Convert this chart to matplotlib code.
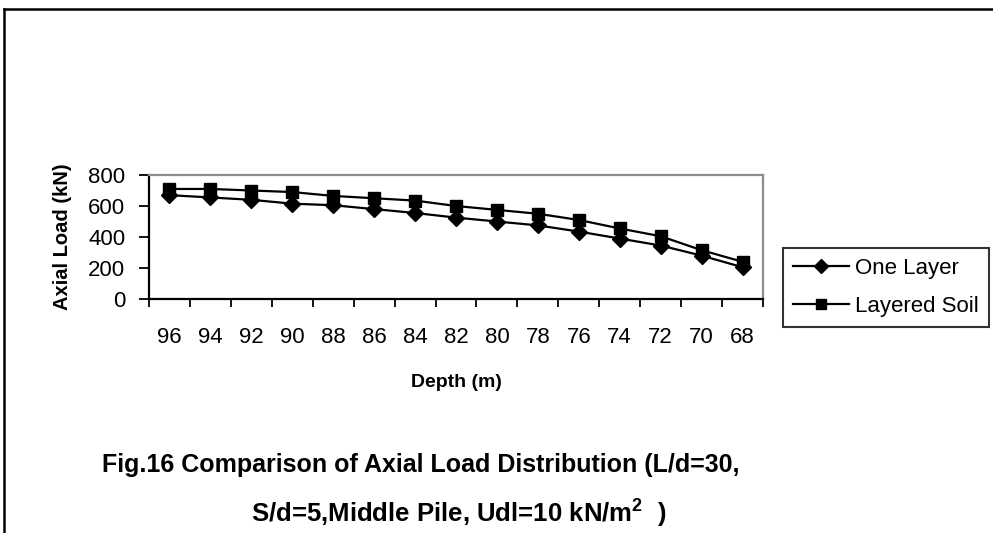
import matplotlib
matplotlib.use("Agg")
import matplotlib.pyplot as plt
from matplotlib.lines import Line2D
import numpy as np

plt.rcParams['font.family'] = ['Liberation Sans', 'DejaVu Sans']
plt.rcParams['mathtext.fontset'] = 'custom'
plt.rcParams['mathtext.bf'] = 'Liberation Sans:bold'
plt.rcParams['mathtext.rm'] = 'Liberation Sans'

# depth below the pile head (m) and axial load (kN)
depth = [96, 94, 92, 90, 88, 86, 84, 82, 80, 78, 76, 74, 72, 70, 68]
one_layer = [670, 655, 640, 615, 605, 580, 555, 525, 500, 475, 435, 390, 345, 280, 205]
layered_soil = [710, 710, 700, 690, 665, 650, 635, 600, 575, 550, 510, 455, 405, 315, 240]

W, H = 993, 533
fig = plt.figure(figsize=(W / 100, H / 100), dpi=100)
fig.patch.set_facecolor('white')

ax = fig.add_axes([149 / W, 1 - 299 / H, (763 - 149) / W, (299 - 175) / H])
x = np.arange(len(depth))
ax.plot(x, one_layer, color='black', lw=1.6, marker='D', ms=8.5, label='One Layer')
ax.plot(x, layered_soil, color='black', lw=1.6, marker='s', ms=9, label='Layered Soil')

ax.set_xlim(-0.5, len(depth) - 0.5)
ax.set_ylim(0, 800)
ax.set_yticks([0, 200, 400, 600, 800])
ax.tick_params(axis='y', direction='out', length=7, width=1.3, labelsize=16, pad=10)

# category ticks sit between the labels
ax.set_xticks(np.arange(-0.5, len(depth), 1.0))
ax.set_xticklabels([])
ax.tick_params(axis='x', which='major', direction='out', length=5.5, width=1.3)
ax.set_xticks(x, minor=True)
ax.set_xticklabels([str(d) for d in depth], minor=True)
ax.tick_params(axis='x', which='minor', length=0, labelsize=16, pad=20)

for side in ['left', 'bottom']:
    ax.spines[side].set_color('black')
    ax.spines[side].set_linewidth(1.6)
for side in ['top', 'right']:
    ax.spines[side].set_color('#8c8c8c')
    ax.spines[side].set_linewidth(1.6)

ax.set_xlabel('Depth (m)', fontsize=14, fontweight='bold', labelpad=19)
ax.set_ylabel('Axial Load (kN)', fontsize=14.5, fontweight='bold', labelpad=12)

leg = fig.legend(loc='upper left', bbox_to_anchor=(783 / W, 1 - 248 / H),
                 fontsize=16, frameon=True, fancybox=False, edgecolor='black',
                 handlelength=2.5, handletextpad=0.3, labelspacing=0.75,
                 borderaxespad=0, borderpad=0.45, markerscale=0.8)
leg.get_frame().set_linewidth(1.5)

fig.text(421 / W, 1 - 465 / H, 'Fig.16 Comparison of Axial Load Distribution (L/d=30,',
         ha='center', va='center', fontsize=18, fontweight='bold')
fig.text(459 / W, 1 - 513 / H, r'S/d=5,Middle Pile, Udl=10 kN/m$^{\mathbf{2}}$  )',
         ha='center', va='center', fontsize=18.5, fontweight='bold')

# outer frame around the chart area
fig.add_artist(Line2D([4 / W, 1], [1 - 9 / H, 1 - 9 / H], color='black', lw=1.8))
fig.add_artist(Line2D([4 / W, 4 / W], [0, 1 - 9 / H], color='black', lw=1.8))

fig.savefig('out.png', dpi=100)
